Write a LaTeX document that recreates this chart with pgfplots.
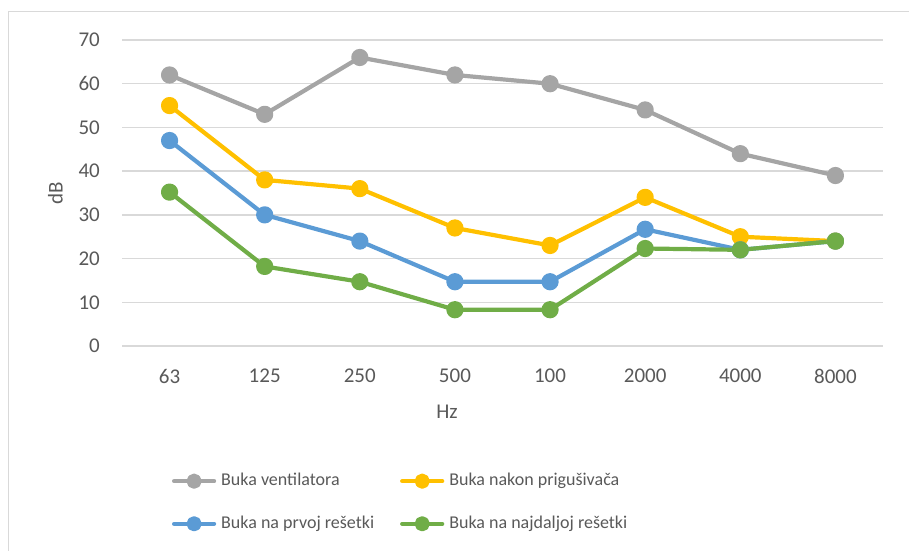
\documentclass[border=0pt]{standalone}
\usepackage{pgfplots}
\pgfplotsset{compat=1.18}
\usepackage{fontspec}
\setmainfont{Carlito}
\definecolor{txt}{HTML}{595959}
\definecolor{gridc}{HTML}{D9D9D9}
\definecolor{cgray}{HTML}{A5A5A5}
\definecolor{cyellow}{HTML}{FFC000}
\definecolor{cblue}{HTML}{5B9BD5}
\definecolor{cgreen}{HTML}{70AD47}
\begin{document}
\begin{tikzpicture}
\path[use as bounding box] (0,0) rectangle (909bp,551bp);
\draw[gridc, line width=1bp] (8bp,0) -- (8bp,539bp) -- (909bp,539bp);
\begin{axis}[
  at={(122bp,205bp)}, anchor=south west,
  scale only axis, width=761bp, height=306bp,
  xmin=-0.5, xmax=7.5, ymin=0, ymax=70,
  xtick={0,...,7}, xticklabels={63,125,250,500,100,2000,4000,8000},
  ytick={0,10,...,70},
  axis line style={draw=none}, major tick length=0pt,
  ymajorgrids, grid style={gridc, line width=1.3bp},
  clip=false,
  tick label style={font=\fontsize{21bp}{24bp}\selectfont, text=txt},
  /pgf/number format/assume math mode=true,
  yticklabel style={inner sep=0pt, xshift=-22bp},
  xticklabel style={inner sep=0pt, yshift=-23bp},
  xlabel={Hz}, ylabel={dB},
  label style={font=\fontsize{21bp}{24bp}\selectfont, text=txt},
  xlabel style={at={(axis description cs:0.427,-0.193)}, anchor=north, inner sep=0pt},
  ylabel style={at={(axis description cs:-0.0775,0.5)}, anchor=south, inner sep=0pt},
  every axis plot/.append style={line width=4.2bp, line cap=round, line join=round,
    mark=*, mark size=6.5bp, mark options={solid}},
  legend columns=2,
  legend cell align=left,
  legend style={at={(axis description cs:0.0657,-0.414)}, anchor=north west,
    draw=none, fill=none, inner sep=0pt, outer sep=0pt,
    font=\fontsize{18bp}{21bp}\selectfont, text=txt,
    nodes={inner sep=0pt, text height=13bp, text depth=4bp},
    row sep=25.6bp,
    /tikz/every odd column/.style={column sep=5bp},
    /tikz/every even column/.style={column sep=26bp}},
  legend image code/.code={\draw[mark repeat=2,mark phase=2,#1,mark size=5.5bp] plot coordinates {(0bp,0bp) (20bp,0bp) (40bp,0bp)};},
]
\addplot[cgray] coordinates {(0,62) (1,53) (2,66) (3,62) (4,60) (5,54) (6,44) (7,39)};
\addlegendentry{Buka ventilatora}
\addplot[cyellow] coordinates {(0,55) (1,38) (2,36) (3,27) (4,23) (5,34) (6,25) (7,24)};
\addlegendentry{Buka nakon prigušivača}
\addplot[cblue] coordinates {(0,47) (1,30) (2,24) (3,14.7) (4,14.7) (5,26.7) (6,22) (7,24)};
\addlegendentry{Buka na prvoj rešetki}
\addplot[cgreen] coordinates {(0,35.2) (1,18.2) (2,14.7) (3,8.3) (4,8.3) (5,22.3) (6,22) (7,24)};
\addlegendentry{Buka na najdaljoj rešetki}
\end{axis}
\end{tikzpicture}
\end{document}
